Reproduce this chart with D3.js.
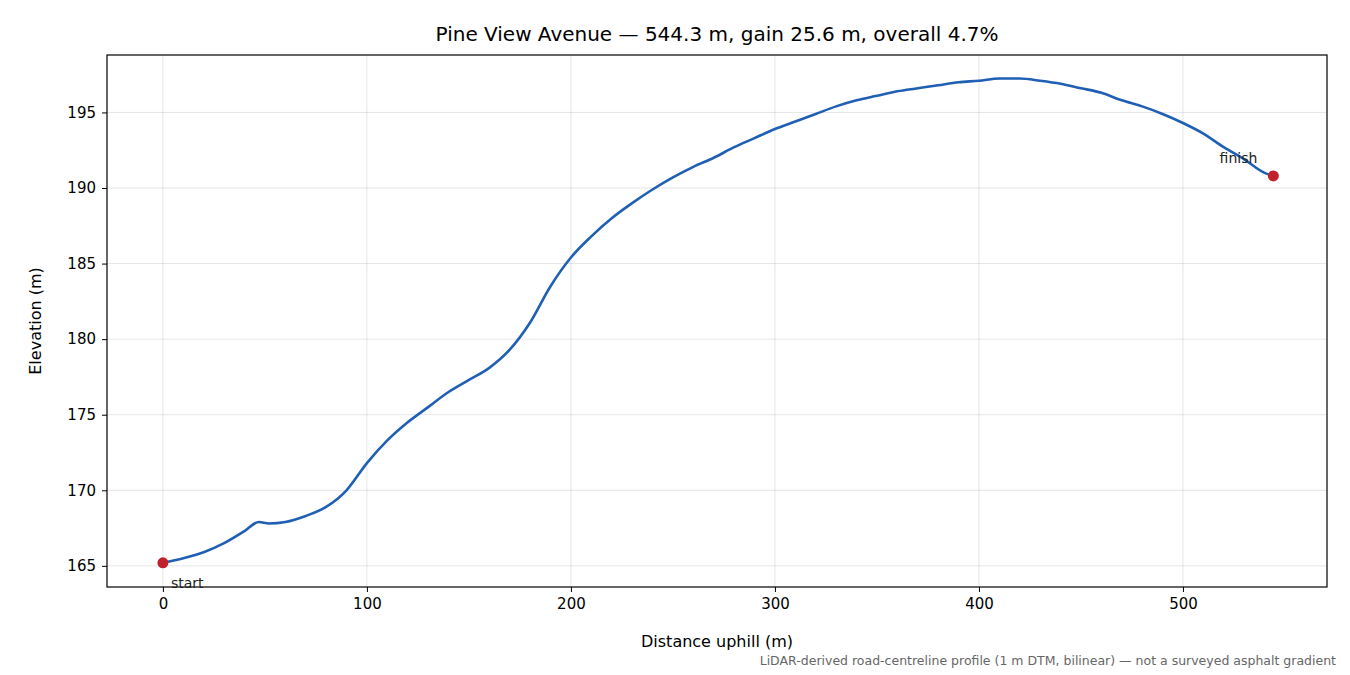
<!DOCTYPE html>
<html>
<head>
<script src="https://d3js.org/d3.v7.min.js"></script>
<style>
  body { margin: 0; background: #fff; font-family: "DejaVu Sans", sans-serif; }
</style>
</head>
<body>
<svg id="chart" width="1350" height="675"></svg>
<script>
const distances = [0, 10, 20, 30, 40, 47, 52, 60, 70, 80, 90, 100, 110, 120, 130, 140, 150, 160, 170, 180, 190, 200, 210, 220, 230, 240, 250, 260, 270, 280, 290, 300, 310, 320, 330, 340, 350, 360, 370, 380, 390, 400, 410, 420, 430, 440, 450, 460, 470, 480, 490, 500, 510, 520, 530, 540, 544.3];
const elevations = [165.2, 165.5, 165.9, 166.5, 167.3, 167.9, 167.8, 167.9, 168.3, 168.9, 170.0, 171.8, 173.3, 174.5, 175.5, 176.5, 177.3, 178.1, 179.3, 181.1, 183.5, 185.4, 186.8, 188.0, 189.0, 189.9, 190.7, 191.4, 192.0, 192.7, 193.3, 193.9, 194.4, 194.9, 195.4, 195.8, 196.1, 196.4, 196.6, 196.8, 197.0, 197.1, 197.25, 197.25, 197.1, 196.9, 196.6, 196.3, 195.8, 195.4, 194.9, 194.3, 193.6, 192.7, 191.9, 191.0, 190.8];
const xTicks = [0, 100, 200, 300, 400, 500];
const yTicks = [165, 170, 175, 180, 185, 190, 195];
const title = "Pine View Avenue — 544.3 m, gain 25.6 m, overall 4.7%";

const svg = d3.select("#chart");
const mLeft = 107, mRight = 1327, mTop = 55, mBottom = 587;
const x = d3.scaleLinear().domain([-27.4, 570.6]).range([mLeft, mRight]);
const y = d3.scaleLinear().domain([163.6, 198.8]).range([mBottom, mTop]);

// grid
svg.append("g").selectAll("line").data(xTicks).join("line")
  .attr("x1", d => x(d)).attr("x2", d => x(d)).attr("y1", mTop).attr("y2", mBottom)
  .attr("stroke", "#000").attr("stroke-opacity", 0.1);
svg.append("g").selectAll("line").data(yTicks).join("line")
  .attr("y1", d => y(d)).attr("y2", d => y(d)).attr("x1", mLeft).attr("x2", mRight)
  .attr("stroke", "#000").attr("stroke-opacity", 0.1);

const xAxis = svg.append("g").attr("transform", `translate(0,${mBottom})`)
  .call(d3.axisBottom(x).tickValues(xTicks).tickSize(5).tickPadding(6));
const yAxis = svg.append("g").attr("transform", `translate(${mLeft},0)`)
  .call(d3.axisLeft(y).tickValues(yTicks).tickSize(5).tickPadding(6));
[xAxis, yAxis].forEach(a => {
  a.select(".domain").remove();
  a.selectAll("text").attr("font-size", 15).attr("font-family", "DejaVu Sans").attr("fill", "#000");
});

svg.append("rect").attr("x", mLeft).attr("y", mTop).attr("width", mRight - mLeft).attr("height", mBottom - mTop)
  .attr("fill", "none").attr("stroke", "#000").attr("stroke-width", 1.2);

const pts = distances.map((d, i) => [d, elevations[i]]);
svg.append("path").datum(pts)
  .attr("d", d3.line().x(d => x(d[0])).y(d => y(d[1])).curve(d3.curveMonotoneX))
  .attr("fill", "none").attr("stroke", "#1f5fb4").attr("stroke-width", 2.6);

const ends = [pts[0], pts[pts.length - 1]];
svg.selectAll("circle.end").data(ends).join("circle")
  .attr("cx", d => x(d[0])).attr("cy", d => y(d[1])).attr("r", 5.5).attr("fill", "#c0212a");

svg.append("text").attr("x", x(0) + 8).attr("y", y(165.2) + 25).text("start")
  .attr("font-size", 14).attr("fill", "#222");
svg.append("text").attr("x", x(544.3) - 16).attr("y", y(190.8) - 13).text("finish")
  .attr("text-anchor", "end").attr("font-size", 14).attr("fill", "#222");

svg.append("text").attr("x", (mLeft + mRight) / 2).attr("y", 41).attr("text-anchor", "middle")
  .attr("font-size", 20).text(title);
svg.append("text").attr("x", (mLeft + mRight) / 2).attr("y", 647).attr("text-anchor", "middle")
  .attr("font-size", 16).text("Distance uphill (m)");
svg.append("text").attr("transform", `translate(41,${(mTop + mBottom) / 2}) rotate(-90)`)
  .attr("text-anchor", "middle").attr("font-size", 16).text("Elevation (m)");
svg.append("text").attr("x", 1336).attr("y", 665).attr("text-anchor", "end")
  .attr("font-size", 12.5).attr("fill", "#666")
  .text("LiDAR-derived road-centreline profile (1 m DTM, bilinear) — not a surveyed asphalt gradient");
</script>
</body>
</html>
